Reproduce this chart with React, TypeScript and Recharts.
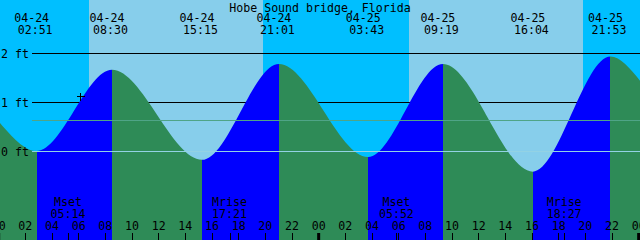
import { ComposedChart, Area, XAxis, YAxis, ReferenceArea, ReferenceLine, ReferenceDot } from 'recharts';

const CHART_W = 640;
const CHART_H = 240;
const FONT = '"DejaVu Sans Mono", monospace';
const FONT_SIZE = 11.6;

const title = 'Hobe Sound bridge, Florida';

// hours counted from 04-24 00:00
const xDomain = [0.1, 48.1];
const yDomain = [-1.789, 3.089];

// tide extremes (high / low)
const eventHours = [2.85, 8.5, 15.25, 21.017, 27.717, 33.317, 40.067, 45.883];
const eventFeet = [0.02, 1.67, -0.16, 1.79, -0.1, 1.79, -0.4, 1.94];
const eventDates = ['04-24', '04-24', '04-24', '04-24', '04-25', '04-25', '04-25', '04-25'];
const eventTimes = ['02:51', '08:30', '15:15', '21:01', '03:43', '09:19', '16:04', '21:53'];

// level at the chart edges
const edgeHours = [0.1, 48.1];
const edgeFeet = [0.59, 1.45];

const sunriseHours = [6.75, 30.75];
const sunsetHours = [19.8, 43.8];

const moonHours = [5.233, 17.35, 29.867, 42.45];
const moonKinds = ['Mset', 'Mrise', 'Mset', 'Mrise'];
const moonTimes = ['05:14', '17:21', '05:52', '18:27'];

const hourTicks = [0, 2, 4, 6, 8, 10, 12, 14, 16, 18, 20, 22, 24, 26, 28, 30, 32, 34, 36, 38, 40, 42, 44, 46, 48];
const hourLabels = ['00', '02', '04', '06', '08', '10', '12', '14', '16', '18', '20', '22', '00', '02', '04', '06', '08', '10', '12', '14', '16', '18', '20', '22', '00'];

const depthLines = [2, 1];
const datumLine = 0;
const meanLevel = 0.64;
const nowMark = { hour: 6.17, ft: 1.12 };

const NIGHT = '#00bfff';
const DAY = '#87ceeb';
const FLOOD = '#0000ff';
const EBB = '#2e8b57';

const tideData = [
  { hour: edgeHours[0], ft: edgeFeet[0] },
  ...eventHours.map((hour, i) => ({ hour, ft: eventFeet[i] })),
  { hour: edgeHours[1], ft: edgeFeet[1] },
];

// sky bands from sun events
const sunEdges = [xDomain[0], ...sunriseHours.flatMap((r, i) => [r, sunsetHours[i]]), xDomain[1]];
const skyBands = sunEdges.slice(0, -1).map((x1, i) => ({ x1, x2: sunEdges[i + 1], fill: i % 2 === 0 ? NIGHT : DAY }));

// flood / ebb stops along the curve
const span = xDomain[1] - xDomain[0];
const tideStops = tideData.slice(0, -1).flatMap((p, i) => {
  const next = tideData[i + 1];
  const color = next.ft > p.ft ? FLOOD : EBB;
  return [
    { offset: (p.hour - xDomain[0]) / span, color },
    { offset: (next.hour - xDomain[0]) / span, color },
  ];
});

const lineStart = xDomain[0] + (32 / CHART_W) * span;
// one pixel of height, in feet (the depth lines sit under the water, so they are thin bands)
const halfPx = (yDomain[1] - yDomain[0]) / CHART_H / 2;

const textProps = { fontFamily: FONT, fontSize: FONT_SIZE, fill: '#000' };

const HourTick = ({ x, payload, index }: any) => {
  const midnight = payload.value % 24 === 0;
  return (
    <g>
      <text x={x} y={230} textAnchor="middle" {...textProps}>{hourLabels[index]}</text>
      {midnight
        ? <rect x={x - 1.5} y={233} width={3} height={7} fill="#000" />
        : <line x1={x} x2={x} y1={233} y2={240} stroke="#000" shapeRendering="crispEdges" />}
    </g>
  );
};

const MoonTick = ({ x, index }: any) => (
  <g>
    <text x={x - 0.5} y={206} textAnchor="middle" {...textProps}>{moonKinds[index]}</text>
    <text x={x - 0.5} y={218} textAnchor="middle" {...textProps}>{moonTimes[index]}</text>
    <line x1={x} x2={x} y1={233} y2={240} stroke="#000" shapeRendering="crispEdges" />
  </g>
);

const EventTick = ({ x, index }: any) => (
  <g>
    <text x={x - 5} y={22} textAnchor="middle" {...textProps}>{eventDates[index]}</text>
    <text x={x - 1.5} y={34} textAnchor="middle" {...textProps}>{eventTimes[index]}</text>
  </g>
);

const Plus = ({ cx, cy }: any) => (
  <g stroke="#000" shapeRendering="crispEdges">
    <line x1={cx - 4} x2={cx + 4} y1={cy} y2={cy} />
    <line x1={cx} x2={cx} y1={cy - 4} y2={cy + 4} />
  </g>
);

const depthLabel = (value: string) => ({ value, position: 'left' as const, offset: 3, ...textProps });

export default function App() {
  return (
    <div style={{ position: 'relative', width: CHART_W, height: CHART_H }}>
      <style>{'body{margin:0}'}</style>
      <ComposedChart width={CHART_W} height={CHART_H} data={tideData} margin={{ top: -1, right: 0, bottom: -2, left: 0 }}>
        <defs>
          <linearGradient id="tideFill" x1="0" y1="0" x2="1" y2="0">
            {tideStops.map((s, i) => (
              <stop key={i} offset={s.offset} stopColor={s.color} />
            ))}
          </linearGradient>
        </defs>
        {skyBands.map((b, i) => (
          <ReferenceArea key={i} x1={b.x1} x2={b.x2} fill={b.fill} fillOpacity={1} stroke="none" ifOverflow="hidden" shapeRendering="crispEdges" />
        ))}
        {depthLines.map((d) => (
          <ReferenceArea
            key={`d${d}`}
            x1={lineStart}
            x2={xDomain[1]}
            y1={d - halfPx}
            y2={d + halfPx}
            fill="#000"
            fillOpacity={1}
            stroke="none"
            shapeRendering="crispEdges"
            label={depthLabel(`${d} ft`)}
          />
        ))}
        <Area
          dataKey="ft"
          type="monotone"
          baseValue={yDomain[0]}
          fill="url(#tideFill)"
          fillOpacity={1}
          stroke="none"
          dot={false}
          activeDot={false}
          isAnimationActive={false}
        />
        <ReferenceLine
          segment={[{ x: lineStart, y: meanLevel }, { x: xDomain[1], y: meanLevel }]}
          stroke="#4fa487"
          shapeRendering="crispEdges"
        />
        <ReferenceLine
          segment={[{ x: lineStart, y: datumLine }, { x: xDomain[1], y: datumLine }]}
          stroke="#93d2e4"
          shapeRendering="crispEdges"
          label={depthLabel(`${datumLine} ft`)}
        />
        <ReferenceDot x={nowMark.hour} y={nowMark.ft} shape={Plus} />
        <YAxis hide domain={yDomain} type="number" allowDataOverflow />
        <XAxis
          dataKey="hour"
          type="number"
          domain={xDomain}
          allowDataOverflow
          height={1}
          ticks={hourTicks}
          interval={0}
          axisLine={false}
          tickLine={false}
          tick={HourTick}
        />
        <XAxis
          xAxisId="moon"
          dataKey="hour"
          type="number"
          domain={xDomain}
          allowDataOverflow
          height={1}
          ticks={moonHours}
          interval={0}
          axisLine={false}
          tickLine={false}
          tick={MoonTick}
        />
        <XAxis
          xAxisId="events"
          dataKey="hour"
          orientation="top"
          type="number"
          domain={xDomain}
          allowDataOverflow
          height={1}
          ticks={eventHours}
          interval={0}
          axisLine={false}
          tickLine={false}
          tick={EventTick}
        />
      </ComposedChart>
      <div
        style={{
          position: 'absolute',
          top: 1,
          left: 0,
          width: CHART_W,
          textAlign: 'center',
          fontFamily: FONT,
          fontSize: FONT_SIZE,
          lineHeight: '14px',
          color: '#000',
        }}
      >
        {title}
      </div>
    </div>
  );
}
